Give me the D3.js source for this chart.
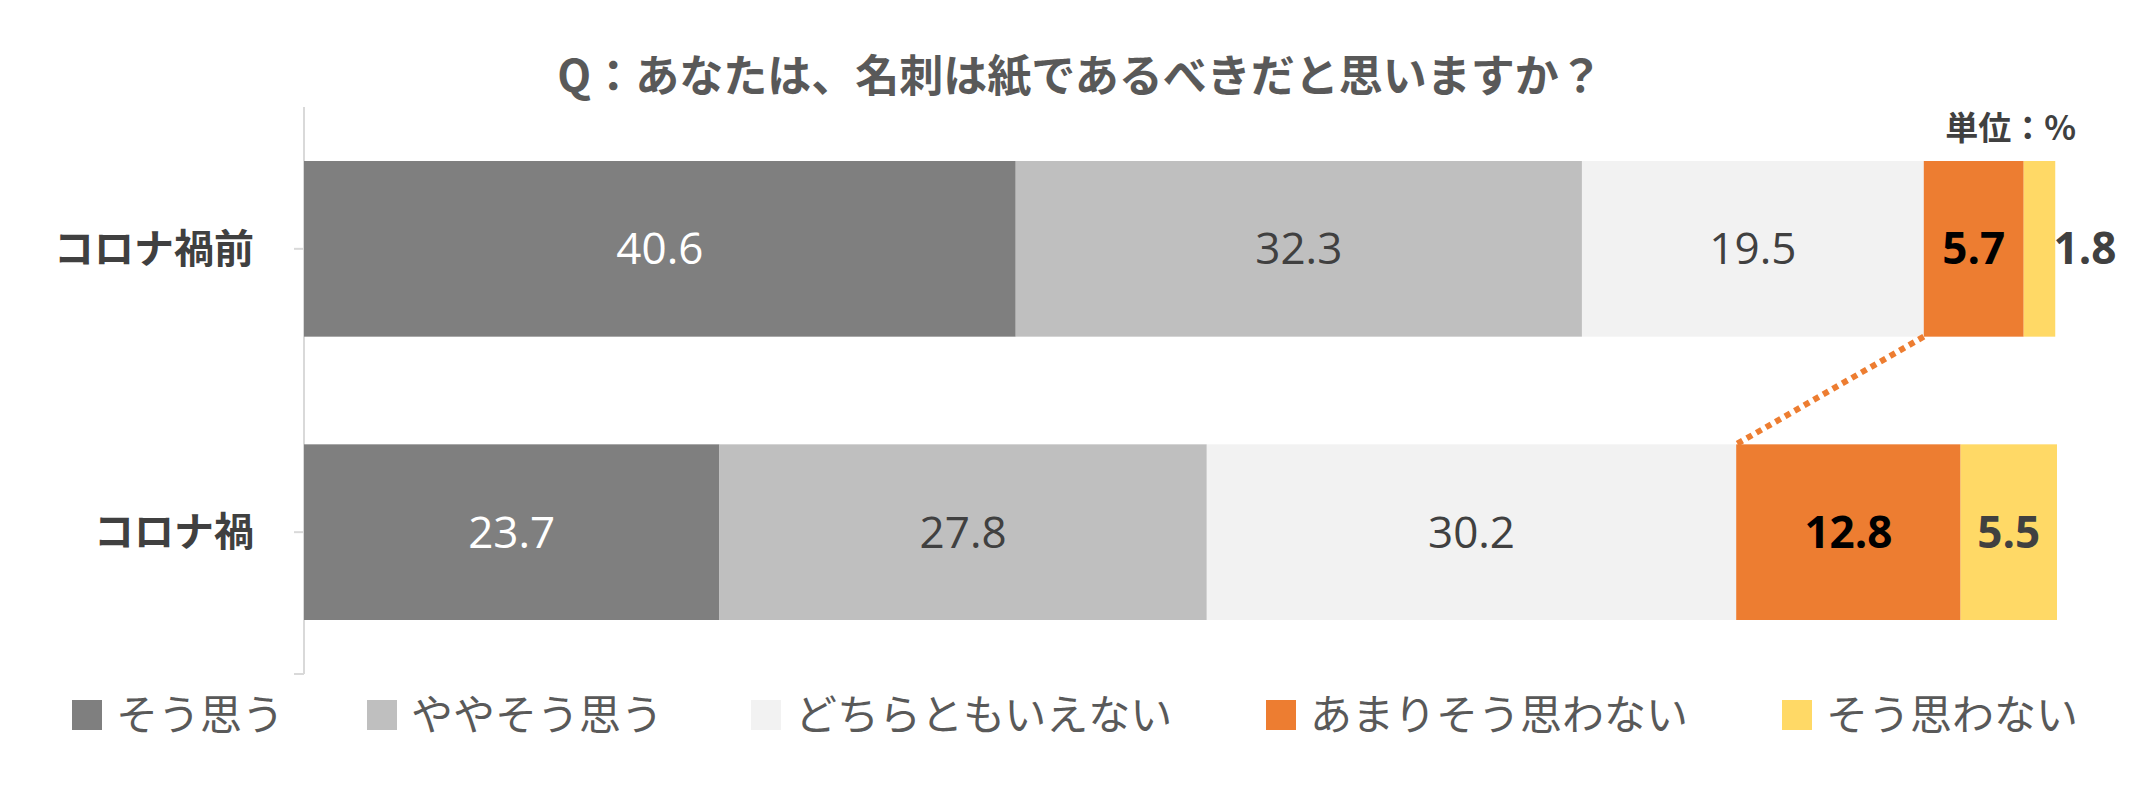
<!DOCTYPE html>
<html><head><meta charset="utf-8">
<script src="https://cdn.jsdelivr.net/npm/d3@7"></script>
<style>body{margin:0;background:#fff;font-family:"Noto Sans CJK JP","Noto Sans",sans-serif;}</style>
</head><body><div id="chart"></div>
<script>
// data
var categories = ["コロナ禍前", "コロナ禍"];
var seriesNames = ["そう思う", "ややそう思う", "どちらともいえない", "あまりそう思わない", "そう思わない"];
var before = [40.6, 32.3, 19.5, 5.7, 1.8];
var during = [23.7, 27.8, 30.2, 12.8, 5.5];
var colors = ["#7f7f7f", "#bfbfbf", "#f2f2f2", "#ed7d31", "#ffd966"];
var labelColors = ["#ffffff", "#404040", "#404040", "#000000", "#404040"];
var labelWeights = ["400", "400", "400", "700", "700"];

var width = 2156, height = 790;
var svg = d3.select("#chart").append("svg").attr("width", width).attr("height", height);

var x = d3.scaleLinear().domain([0, 100]).range([304, 2057]);
var y = d3.scaleBand().domain(categories).range([161, 620]).paddingInner(0.38).paddingOuter(0);

// title
svg.append("text").attr("x", 1080).attr("y", 92).attr("text-anchor", "middle")
  .attr("font-size", 44).attr("font-weight", 700).attr("fill", "#595959")
  .text("Q：あなたは、名刺は紙であるべきだと思いますか？");
svg.append("text").attr("x", 2076).attr("y", 140).attr("text-anchor", "end")
  .attr("font-size", 33).attr("font-weight", 700).attr("fill", "#404040").text("単位：%");

// axis
svg.append("line").attr("x1", 304).attr("x2", 304).attr("y1", 107).attr("y2", 674)
  .attr("stroke", "#d9d9d9").attr("stroke-width", 2);
[0, 1].forEach(function(i){
  var cy = y(categories[i]) + y.bandwidth() / 2;
  svg.append("line").attr("x1", 294).attr("x2", 304).attr("y1", cy).attr("y2", cy).attr("stroke", "#d9d9d9").attr("stroke-width", 2);
});
svg.append("line").attr("x1", 294).attr("x2", 304).attr("y1", 674).attr("y2", 674).attr("stroke", "#d9d9d9").attr("stroke-width", 2);

var rows = [before, during];
rows.forEach(function(vals, r){
  var cat = categories[r];
  var cum = 0;
  var g = svg.append("g");
  vals.forEach(function(v, i){
    var x0 = cum; cum += v;
    g.append("rect").attr("x", x(x0)).attr("y", y(cat)).attr("width", x(cum) - x(x0))
      .attr("height", y.bandwidth()).attr("fill", colors[i]);
    var tx = (x(x0) + x(cum)) / 2;
    if (r === 0 && i === 4) tx = x(100) + 28;
    g.append("text").attr("x", tx).attr("y", y(cat) + y.bandwidth() / 2)
      .attr("dy", "0.35em").attr("text-anchor", "middle").attr("font-size", 44)
      .attr("font-family", "'Open Sans','Noto Sans',sans-serif")
      .attr("font-weight", labelWeights[i]).attr("fill", labelColors[i]).text(v.toFixed(1));
  });
  svg.append("text").attr("x", 254).attr("y", y(cat) + y.bandwidth() / 2).attr("dy", "0.35em")
    .attr("text-anchor", "end").attr("font-size", 40).attr("font-weight", 700).attr("fill", "#404040").text(cat);
});

// dotted connector
var s1 = d3.sum(before.slice(0, 3)), s2 = d3.sum(during.slice(0, 3));
svg.append("line").attr("x1", x(s1)).attr("y1", y(categories[0]) + y.bandwidth())
  .attr("x2", x(s2)).attr("y2", y(categories[1]))
  .attr("stroke", "#ed7d31").attr("stroke-width", 6).attr("stroke-dasharray", "6,5");

// legend
var legX = [72, 367, 751, 1266, 1782];
seriesNames.forEach(function(n, i){
  svg.append("rect").attr("x", legX[i]).attr("y", 700).attr("width", 30).attr("height", 30).attr("fill", colors[i]);
  svg.append("text").attr("x", legX[i] + 44).attr("y", 715).attr("dy", "0.35em")
    .attr("font-size", 42).attr("fill", "#595959").text(n);
});
</script></body></html>
